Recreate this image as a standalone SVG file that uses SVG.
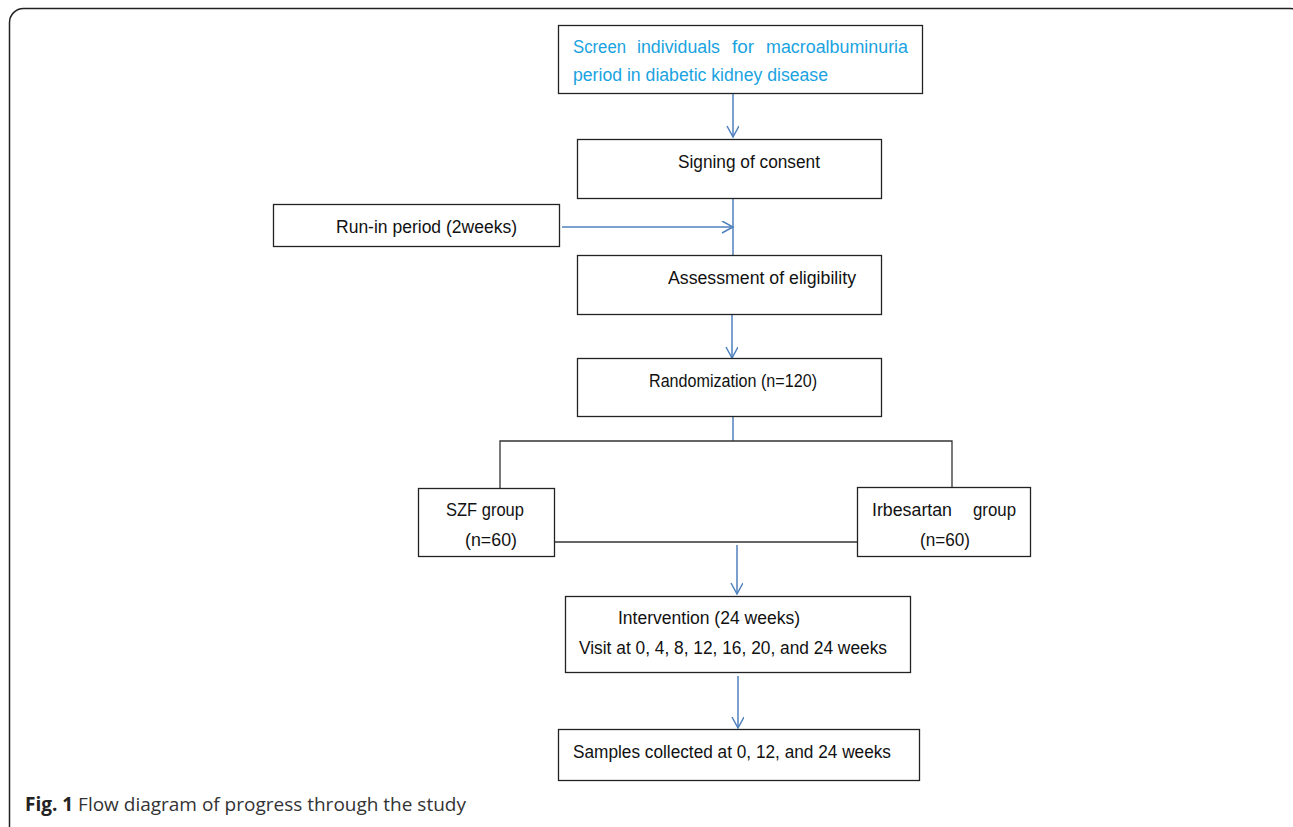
<svg xmlns="http://www.w3.org/2000/svg" width="1293" height="827" viewBox="0 0 1293 827">
<style>
.box{fill:#fff;stroke:#222;stroke-width:1.3}
.t{font-family:"Liberation Sans","Open Sans",Arial,sans-serif;font-size:17.5px;fill:#111}
.blue{fill:#1aa3e0}
.arr{stroke:#4f81bd;stroke-width:1.5;fill:none}
.ln{stroke:#333;stroke-width:1.3;fill:none}
.cap{font-family:"Open Sans","Liberation Sans",sans-serif;font-size:19px;fill:#333}
</style>
<defs>
<marker id="ah" markerWidth="14" markerHeight="14" refX="12" refY="6" orient="auto" markerUnits="userSpaceOnUse">
<path d="M1,0 L12,6 L1,12" fill="none" stroke="#4f81bd" stroke-width="1.5"/>
</marker>
</defs>
<rect x="9.5" y="8.5" width="1295" height="835" rx="14" fill="none" stroke="#222" stroke-width="1.5"/>
<g id="connectors">
<line class="arr" x1="733" y1="93" x2="733" y2="137" marker-end="url(#ah)"/>
<line class="arr" x1="733" y1="198" x2="733" y2="255"/>
<line class="arr" x1="562" y1="227" x2="733" y2="227" marker-end="url(#ah)"/>
<line class="arr" x1="732" y1="314" x2="732" y2="358" marker-end="url(#ah)"/>
<line class="arr" x1="733" y1="416" x2="733" y2="441"/>
<polyline class="ln" points="500,488 500,441 952,441 952,487"/>
<line class="ln" x1="554" y1="542" x2="857" y2="542"/>
<line class="arr" x1="737" y1="545" x2="737" y2="594" marker-end="url(#ah)"/>
<line class="arr" x1="738" y1="676" x2="738" y2="728" marker-end="url(#ah)"/>
</g>
<g id="screen">
<rect class="box" x="558.5" y="25.5" width="364" height="68"/>
<text class="t blue" y="53"><tspan x="573" textLength="53" lengthAdjust="spacingAndGlyphs">Screen</tspan><tspan x="637" textLength="83" lengthAdjust="spacingAndGlyphs">individuals</tspan><tspan x="732" textLength="22" lengthAdjust="spacingAndGlyphs">for</tspan><tspan x="766" textLength="142" lengthAdjust="spacingAndGlyphs">macroalbuminuria</tspan></text>
<text class="t blue" x="573" y="81" textLength="255" lengthAdjust="spacingAndGlyphs">period in diabetic kidney disease</text>
</g>
<g id="consent">
<rect class="box" x="577.5" y="139.5" width="304" height="59"/>
<text class="t" x="678" y="168" textLength="142" lengthAdjust="spacingAndGlyphs">Signing of consent</text>
</g>
<g id="runin">
<rect class="box" x="273.5" y="204.5" width="286" height="42"/>
<text class="t" x="336" y="233" textLength="181" lengthAdjust="spacingAndGlyphs">Run-in period (2weeks)</text>
</g>
<g id="eligibility">
<rect class="box" x="577.5" y="255.5" width="304" height="59"/>
<text class="t" x="668" y="284" textLength="188" lengthAdjust="spacingAndGlyphs">Assessment of eligibility</text>
</g>
<g id="randomization">
<rect class="box" x="577.5" y="358.5" width="304" height="58"/>
<text class="t" x="649" y="387" textLength="168" lengthAdjust="spacingAndGlyphs">Randomization (n=120)</text>
</g>
<g id="szf">
<rect class="box" x="418.5" y="488.5" width="136" height="68"/>
<text class="t" x="446" y="516" textLength="78" lengthAdjust="spacingAndGlyphs">SZF group</text>
<text class="t" x="465" y="546" textLength="52" lengthAdjust="spacingAndGlyphs">(n=60)</text>
</g>
<g id="irbesartan">
<rect class="box" x="857.5" y="487.5" width="173" height="69"/>
<text class="t" y="516"><tspan x="872" textLength="80" lengthAdjust="spacingAndGlyphs">Irbesartan</tspan><tspan x="973" textLength="43" lengthAdjust="spacingAndGlyphs">group</tspan></text>
<text class="t" x="920" y="546" textLength="50" lengthAdjust="spacingAndGlyphs">(n=60)</text>
</g>
<g id="intervention">
<rect class="box" x="565.5" y="596.5" width="345" height="76"/>
<text class="t" x="618" y="624" textLength="182" lengthAdjust="spacingAndGlyphs">Intervention (24 weeks)</text>
<text class="t" x="579" y="654" textLength="308" lengthAdjust="spacingAndGlyphs">Visit at 0, 4, 8, 12, 16, 20, and 24 weeks</text>
</g>
<g id="samples">
<rect class="box" x="558.5" y="729.5" width="361" height="51"/>
<text class="t" x="573" y="758" textLength="318" lengthAdjust="spacingAndGlyphs">Samples collected at 0, 12, and 24 weeks</text>
</g>
<text class="cap" x="25" y="811" textLength="441" lengthAdjust="spacingAndGlyphs"><tspan font-weight="bold" fill="#222">Fig. 1</tspan> Flow diagram of progress through the study</text>
</svg>
